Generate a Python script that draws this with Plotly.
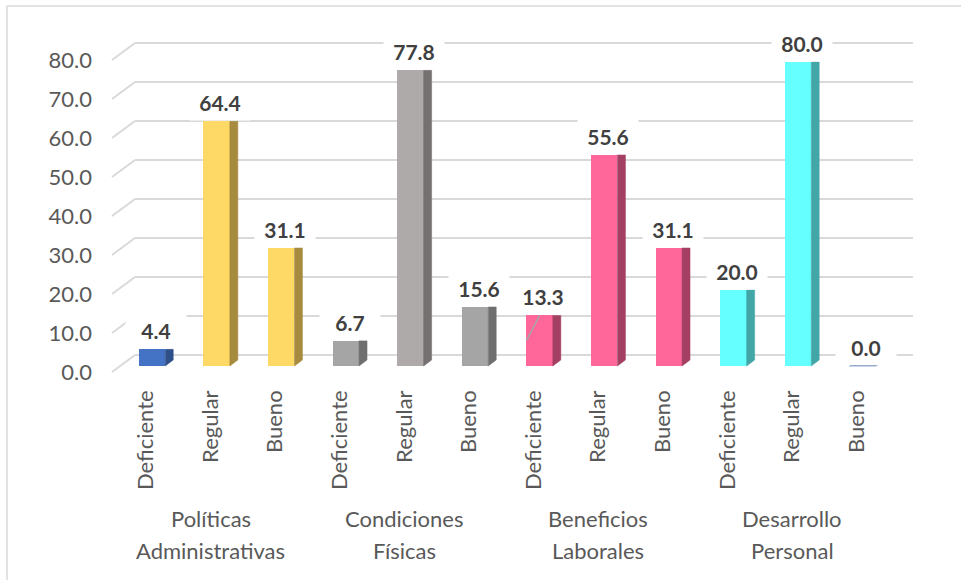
import plotly.graph_objects as go

# ---- data -------------------------------------------------------------
groups = ["Políticas Administrativas", "Condiciones Físicas",
          "Beneficios Laborales", "Desarrollo Personal"]
levels = ["Deficiente", "Regular", "Bueno"]
values = [4.4, 64.4, 31.1,
          6.7, 77.8, 15.6,
          13.3, 55.6, 31.1,
          20.0, 80.0, 0.0]
front_colors = ["#4472C4", "#FFD966", "#FFD966",
                "#A5A5A5", "#AEAAAA", "#A5A5A5",
                "#FF6699", "#FF6699", "#FF6699",
                "#66FFFF", "#66FFFF", "#2F5597"]
side_colors = ["#2F4F8A", "#A68B3F", "#A68B3F",
               "#6F6F6F", "#767171", "#6F6F6F",
               "#A33F63", "#A33F63", "#A33F63",
               "#42A6A6", "#42A6A6", "#203A6A"]
y_ticks = [0, 10, 20, 30, 40, 50, 60, 70, 80]

# ---- page geometry ----------------------------------------------------
W, H = 961, 580
FONT = "Lato, Carlito, Calibri, sans-serif"
GRID = "#D9D9D9"
TXT = "#595959"

# bars subplot (x2 / y2): bar pitch and value scale in pixels
PITCH = 64.6          # px between bar centres
X0 = 152              # px of first bar centre
VSCALE = 3.8          # px per value unit
BASE = 366            # px of the value 0 (bar floor)
AX_BOTTOM = 380       # px where the category axis sits

BAR_W = 0.41          # bar width (category units)
DEPTH = 8 / PITCH     # side face depth
SLANT = 6 / VSCALE    # rise of the side face bottom edge

# back wall (x / y): gridlines
WALL_L, WALL_R = 135, 913
WALL_ZERO, WALL_SCALE = 355, 3.9

n = len(values)
idx = list(range(n))
cat_labels = [levels[i % 3] for i in idx]

fig = go.Figure()

# front faces
fig.add_trace(go.Bar(
    x=idx, y=values, width=BAR_W,
    marker=dict(color=front_colors, line=dict(width=0)),
    xaxis="x2", yaxis="y2", hoverinfo="skip",
))

# side faces / top sliver of the empty bar
for i, v in enumerate(values):
    xr = i + BAR_W / 2
    if v > 0:
        xs = [xr, xr + DEPTH, xr + DEPTH, xr, xr]
        ys = [0, SLANT, v, v, 0]
        col = side_colors[i]
    else:
        xl = i - BAR_W / 2
        xs = [xl, xr, xr + DEPTH, xl + DEPTH, xl]
        ys = [0, 0, 1.0, 1.0, 0]
        col = front_colors[i]
    fig.add_trace(go.Scatter(
        x=xs, y=ys, mode="lines", fill="toself",
        fillcolor=col, line=dict(width=0.5, color=col),
        xaxis="x2", yaxis="y2", hoverinfo="skip",
    ))

# invisible trace so the back-wall subplot exists
fig.add_trace(go.Scatter(x=[0, 1], y=[0, 0], mode="lines",
                         line=dict(width=0), xaxis="x", yaxis="y",
                         hoverinfo="skip"))

annotations = []
# value labels
for i, v in enumerate(values):
    annotations.append(dict(
        x=i + 0.06, y=v, xref="x2", yref="y2",
        text=f"<b>{v:.1f}</b>", showarrow=False,
        xanchor="center", yanchor="bottom",
        font=dict(family=FONT, size=21, color="#404040"),
        bgcolor="white", borderpad=5, width=50,
    ))

# group labels, two lines each
for g, name in enumerate(groups):
    first, second = name.split(" ", 1)
    for line, ypx in ((first, 518), (second, 550)):
        annotations.append(dict(
            x=3 * g + 1, y=1 - ypx / H, xref="x2", yref="paper",
            xshift=-6, text=line, showarrow=False,
            xanchor="center", yanchor="middle",
            font=dict(family=FONT, size=22, color=TXT),
        ))

wall_lo, wall_hi = -2, 82
wall_bot_px = WALL_ZERO - WALL_SCALE * wall_lo
wall_top_px = WALL_ZERO - WALL_SCALE * wall_hi

shapes = []
# side wall: connectors from the front edge to the back-wall gridlines
# (domain-referenced so they are not clipped to the wall area)
for t in y_ticks:
    frac = (t - wall_lo) / (wall_hi - wall_lo)
    shapes.append(dict(
        type="line", xref="x domain", yref="y domain",
        xsizemode="pixel", xanchor=0, x0=-23, x1=0,
        ysizemode="pixel", yanchor=frac, y0=-17, y1=0,
        line=dict(color=GRID, width=2),
    ))

# leader line of the 13.3 label
shapes.append(dict(
    type="line", xref="x2", yref="y2",
    xsizemode="pixel", xanchor=6, x0=-13, x1=0,
    ysizemode="pixel", yanchor=values[6], y0=-25, y1=0,
    line=dict(color="#A6A6A6", width=1.5),
))

# chart border (left and top)
shapes.append(dict(type="line", xref="paper", yref="paper",
                   x0=7 / W, x1=7 / W, y0=0, y1=1 - 6 / H,
                   line=dict(color=GRID, width=1.5)))
shapes.append(dict(type="line", xref="paper", yref="paper",
                   x0=7 / W, x1=1, y0=1 - 6 / H, y1=1 - 6 / H,
                   line=dict(color=GRID, width=1.5)))

fig.update_layout(
    width=W, height=H,
    margin=dict(l=0, r=0, t=0, b=0, pad=0),
    paper_bgcolor="white",
    plot_bgcolor="rgba(0,0,0,0)",
    showlegend=False,
    hovermode=False,
    bargap=0,
    annotations=annotations,
    shapes=shapes,
    font=dict(family=FONT, color=TXT),
    # back wall with gridlines and value tick labels
    xaxis=dict(domain=[WALL_L / W, WALL_R / W], range=[0, 1],
               visible=False, anchor="y", automargin=False),
    yaxis=dict(domain=[1 - wall_bot_px / H, 1 - wall_top_px / H],
               range=[wall_lo, wall_hi], anchor="x", automargin=False,
               tickvals=y_ticks, ticktext=[f"{t:.1f}" for t in y_ticks],
               showgrid=True, gridcolor=GRID, gridwidth=2,
               zeroline=False, showline=False, ticks="",
               ticklabelshift=17, ticklabelstandoff=42,
               tickfont=dict(family=FONT, size=22, color=TXT)),
    # bars
    xaxis2=dict(domain=[0, 1],
                range=[-X0 / PITCH, (W - X0) / PITCH],
                anchor="y2", automargin=False,
                tickvals=idx, ticktext=cat_labels,
                tickangle=-90, ticks="", showgrid=False,
                zeroline=False, showline=False,
                ticklabelshift=-6, ticklabelstandoff=5,
                tickfont=dict(family=FONT, size=22, color=TXT)),
    yaxis2=dict(domain=[1 - AX_BOTTOM / H, 1],
                range=[-(AX_BOTTOM - BASE) / VSCALE, BASE / VSCALE],
                anchor="x2", visible=False, automargin=False),
)

fig.write_html("out.html")
